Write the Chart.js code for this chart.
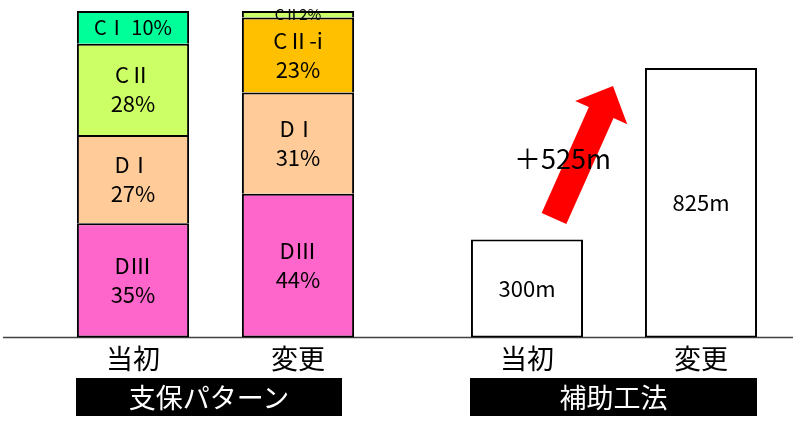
<!DOCTYPE html>
<html lang="ja">
<head>
<meta charset="utf-8">
<script src="https://cdn.jsdelivr.net/npm/chart.js@4"></script>
<style>
  body { margin: 0; background: #fff; }
  #wrap { position: relative; width: 798px; height: 422px; overflow: hidden; }
  .pane { position: absolute; top: 0; }
  .box {
    position: absolute; top: 378px; height: 38px;
    background: #000; color: #fff; text-align: center;
    font: 27px "Noto Sans CJK JP"; line-height: 38px;
  }
</style>
</head>
<body>
<div id="wrap">
  <canvas id="shiho" class="pane" style="left:0" width="415" height="422"></canvas>
  <canvas id="hojo" class="pane" style="left:415px" width="383" height="422"></canvas>
  <div class="box" style="left:76px;width:266px">支保パターン</div>
  <div class="box" style="left:470px;width:287px">補助工法</div>
</div>
<script>
const FONT = '"Noto Sans CJK JP"';

// 時期
const JIKI = ["当初", "変更"];

// 支保パターン 割合 (%)  下から順に積む
const DIII = [35, 44];
const DI = [27, 31];
const CII_I = [null, 23];
const CII = [28, 2];
const CI = [10, null];

// 補助工法 延長 (m)
const ENCHO = [300, 825];

Chart.defaults.font.family = FONT;
Chart.defaults.color = "#000";

// 基準線（横いっぱいに引く）
const kijunsen = {
  id: "kijunsen",
  beforeDatasetsDraw(chart, args, opts) {
    const ctx = chart.ctx;
    const y = chart.scales.y.getPixelForValue(0);
    ctx.save();
    ctx.strokeStyle = "#404040";
    ctx.lineWidth = 1.5;
    ctx.beginPath();
    ctx.moveTo(opts.from, y);
    ctx.lineTo(opts.to, y);
    ctx.stroke();
    ctx.restore();
  },
};

// 棒の中の文字
const naibuLabel = {
  id: "naibuLabel",
  afterDatasetsDraw(chart, args, opts) {
    const ctx = chart.ctx;
    ctx.save();
    ctx.fillStyle = "#000";
    ctx.textAlign = "center";
    ctx.textBaseline = "middle";
    chart.data.datasets.forEach((ds, i) => {
      chart.getDatasetMeta(i).data.forEach((bar, j) => {
        const v = ds.data[j];
        if (v == null) return;
        const h = Math.abs(bar.base - bar.y);
        const cy = (bar.y + bar.base) / 2;
        const { lines, size } = opts.text(ds, v, h);
        ctx.font = size + "px " + FONT;
        const gap = size * 1.32;
        lines.forEach((t, k) => {
          ctx.fillText(t, bar.x, cy + (k - (lines.length - 1) / 2) * gap);
        });
      });
    });
    ctx.restore();
  },
};

// 増加を示す矢印
const zoukaYajirushi = {
  id: "zoukaYajirushi",
  afterDatasetsDraw(chart) {
    const { ctx, scales: { x, y } } = chart;
    const tail = { x: x.getPixelForValue(0) + 27, y: y.getPixelForValue(ENCHO[0]) - 21 };
    const tip = { x: x.getPixelForValue(1) - 88, y: y.getPixelForValue(ENCHO[1]) + 18 };
    const dx = tip.x - tail.x, dy = tip.y - tail.y;
    const len = Math.hypot(dx, dy);
    const ux = dx / len, uy = dy / len;
    const nx = -uy, ny = ux;
    const shaft = 13.5, head = 28.5, headLen = 29;
    const bx = tip.x - ux * headLen, by = tip.y - uy * headLen;

    ctx.save();
    ctx.fillStyle = "#FF0000";
    ctx.beginPath();
    ctx.moveTo(tail.x + nx * shaft, tail.y + ny * shaft);
    ctx.lineTo(bx + nx * shaft, by + ny * shaft);
    ctx.lineTo(bx + nx * head, by + ny * head);
    ctx.lineTo(tip.x, tip.y);
    ctx.lineTo(bx - nx * head, by - ny * head);
    ctx.lineTo(bx - nx * shaft, by - ny * shaft);
    ctx.lineTo(tail.x - nx * shaft, tail.y - ny * shaft);
    ctx.closePath();
    ctx.fill();

    ctx.fillStyle = "#000";
    ctx.font = "27px " + FONT;
    ctx.textAlign = "center";
    ctx.textBaseline = "middle";
    ctx.fillText("＋" + (ENCHO[1] - ENCHO[0]) + "m",
      (tail.x + tip.x) / 2 - 21, (tail.y + tip.y) / 2 + 6);
    ctx.restore();
  },
};

function xAxis() {
  return {
    stacked: true,
    grid: { display: false, drawTicks: false },
    border: { display: false },
    ticks: { padding: 5, font: { size: 27 } },
  };
}

// 一番下の区分以外は下辺を描かず、境界線を1本にする
function pattern(label, data, color) {
  return {
    label, data,
    backgroundColor: color,
    borderColor: "#000",
    borderWidth: 2,
    borderSkipped: (c) => (c.datasetIndex === 0 ? false : "start"),
    barPercentage: 0.68,
    categoryPercentage: 1,
  };
}

new Chart(document.getElementById("shiho"), {
  type: "bar",
  data: {
    labels: JIKI,
    datasets: [
      pattern("DⅢ", DIII, "#FF66CC"),
      pattern("DⅠ", DI, "#FFCC99"),
      pattern("CⅡ-i", CII_I, "#FFC000"),
      pattern("CⅡ", CII, "#CCFF66"),
      pattern("CⅠ", CI, "#00FF99"),
    ],
  },
  options: {
    responsive: false,
    animation: false,
    layout: { padding: { left: 50.5, right: 34.5, top: 11, bottom: 42.2 } },
    plugins: {
      legend: { display: false },
      tooltip: { enabled: false },
      kijunsen: { from: 3, to: 415 },
      naibuLabel: {
        text: (ds, v, h) => {
          if (h < 20) return { lines: [ds.label + v + "%"], size: 15 };
          if (h < 55) return { lines: [ds.label + " " + v + "%"], size: 20 };
          return { lines: [ds.label, v + "%"], size: 22 };
        },
      },
    },
    scales: {
      x: xAxis(),
      y: { display: false, stacked: true, min: 0, max: 100 },
    },
  },
  plugins: [kijunsen, naibuLabel],
});

new Chart(document.getElementById("hojo"), {
  type: "bar",
  data: {
    labels: JIKI,
    datasets: [{
      label: "延長",
      data: ENCHO,
      backgroundColor: "#FFFFFF",
      borderColor: "#000",
      borderWidth: 2,
      borderSkipped: false,
      barPercentage: 0.644,
      categoryPercentage: 1,
    }],
  },
  options: {
    responsive: false,
    animation: false,
    layout: { padding: { left: 25, right: 10, top: 11, bottom: 42.2 } },
    plugins: {
      legend: { display: false },
      tooltip: { enabled: false },
      kijunsen: { from: 0, to: 378 },
      naibuLabel: { text: (ds, v) => ({ lines: [v + "m"], size: 22 }) },
    },
    scales: {
      x: xAxis(),
      y: { display: false, min: 0, max: 1000 },
    },
  },
  plugins: [kijunsen, naibuLabel, zoukaYajirushi],
});
</script>
</body>
</html>
